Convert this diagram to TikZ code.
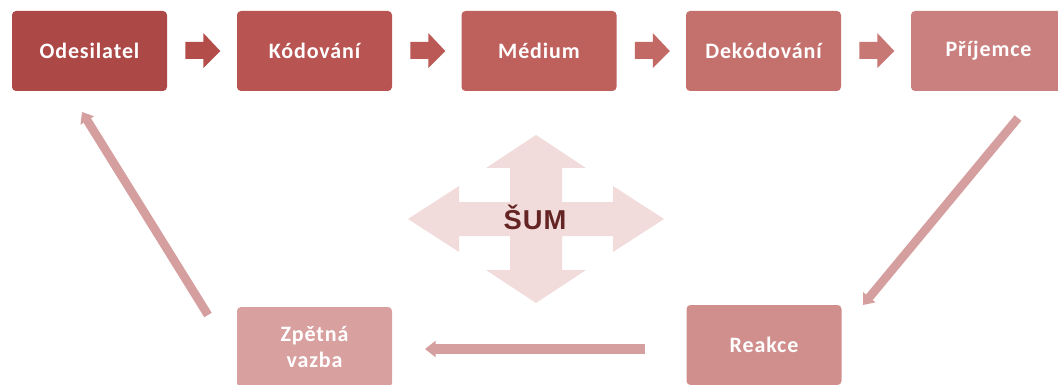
\documentclass[tikz,border=0pt]{standalone}
\usepackage{fontspec}
\usetikzlibrary{arrows.meta,calc}
\newfontfamily\boxfont[LetterSpace=4]{Carlito}
\newfontfamily\noisefont[LetterSpace=4]{Liberation Sans}

\definecolor{cOdes}{HTML}{AC4846}
\definecolor{cKod}{HTML}{B85451}
\definecolor{cMed}{HTML}{BE615D}
\definecolor{cDek}{HTML}{C4716E}
\definecolor{cPri}{HTML}{CA807E}
\definecolor{cRea}{HTML}{D08E8D}
\definecolor{cZpe}{HTML}{D8A09F}
\definecolor{aOne}{HTML}{B24D4A}
\definecolor{aTwo}{HTML}{BA5955}
\definecolor{aThree}{HTML}{C26965}
\definecolor{aFour}{HTML}{C77875}
\definecolor{loopcol}{HTML}{D59F9F}
\definecolor{crosscol}{HTML}{F2DCDB}
\definecolor{noisetext}{HTML}{632423}

\tikzset{
  stagebox/.style={fill=#1, draw=none, rounded corners=3pt,
    minimum width=116.25pt, minimum height=60pt, inner sep=0pt,
    text=white, align=center,
    font=\boxfont\bfseries\fontsize{16.5}{19.5}\selectfont},
  loopline/.style={draw=loopcol, line width=6.5pt,
    -{Triangle[width=11.5pt,length=7.5pt]}},
}

% small block arrow placed to the right of a box
\newcommand{\blockarrow}[2]{%
  \fill[#2] (#1.east) ++(18,-9) -- ++(18,0) -- ++(0,-9) -- ++(17,18)
    -- ++(-17,17) -- ++(0,-9) -- ++(-18,0) -- cycle;}

\begin{document}
\begin{tikzpicture}[x=0.75pt,y=-0.75pt]
  \useasboundingbox (0,0) rectangle (1058,385);
  \clip (0,0) rectangle (1058,385);

  % top row: the transmission chain
  \node[stagebox=cOdes] (odes) at (89.5,51)  {Odesilatel};
  \node[stagebox=cKod]  (kod)  at (314.5,51) {Kódování};
  \node[stagebox=cMed]  (med)  at (539,51)   {Médium};
  \node[stagebox=cDek]  (dek)  at (763.5,51) {Dekódování};
  \node[stagebox=cPri]  (pri)  at (988.5,51) {Příjemce};

  \blockarrow{odes}{aOne}
  \blockarrow{kod}{aTwo}
  \blockarrow{med}{aThree}
  \blockarrow{dek}{aFour}

  % bottom row: the feedback part
  \node[stagebox=cZpe] (zpe) at (314.5,347) {Zpětná\\vazba};
  \node[stagebox=cRea] (rea) at (764,345)   {Reakce};

  % noise: four-way arrow in the middle
  \coordinate (c) at (536,219);
  \fill[crosscol] (c) ++(0,-84) -- ++(50,33) -- ++(-24,0) -- ++(0,34)
    -- ++(51,0) -- ++(0,-16) -- ++(51,33) -- ++(-51,33) -- ++(0,-16)
    -- ++(-51,0) -- ++(0,34) -- ++(24,0) -- ++(-50,33) -- ++(-50,-33)
    -- ++(24,0) -- ++(0,-34) -- ++(-51,0) -- ++(0,16) -- ++(-51,-33)
    -- ++(51,-33) -- ++(0,16) -- ++(51,0) -- ++(0,-34) -- ++(-24,0) -- cycle;
  \node[text=noisetext, font=\noisefont\bfseries\fontsize{20.5}{22}\selectfont]
    (sum) at ($(c)+(-1,-2)$) {ŠUM};

  % loop connectors
  \coordinate (priout) at (1018,118);
  \coordinate (reain)  at (863,305);
  \coordinate (reaout) at (645,349);
  \coordinate (zpein)  at (425,349);
  \coordinate (zpeout) at (208,315);
  \coordinate (odesin) at (82,112);
  \draw[loopline] (priout) -- (reain);
  \draw[loopline, line width=7.5pt,
        -{Triangle[width=12pt,length=8pt]}] (reaout) -- (zpein);
  \draw[loopline] (zpeout) -- (odesin);
\end{tikzpicture}
\end{document}
